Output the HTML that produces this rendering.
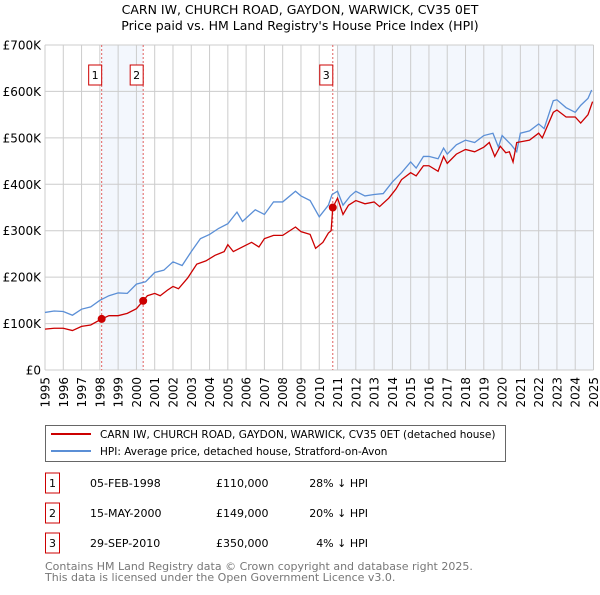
<!DOCTYPE html>
<html><head><meta charset="utf-8"><style>
body{margin:0;background:#fff;font-family:"Liberation Sans","DejaVu Sans",sans-serif}
svg text{font-family:"DejaVu Sans","Liberation Sans",sans-serif}
</style></head><body>
<svg width="600" height="590" xmlns="http://www.w3.org/2000/svg">
<g id="root"></g>
</svg>
<script>
const hpiYears=[1995.0,1995.5,1996.0,1996.5,1997.0,1997.5,1998.0,1998.5,1999.0,1999.5,2000.0,2000.5,2001.0,2001.5,2002.0,2002.5,2003.0,2003.5,2004.0,2004.5,2005.0,2005.5,2005.8,2006.5,2007.0,2007.5,2008.0,2008.7,2009.0,2009.5,2010.0,2010.5,2010.7,2011.0,2011.3,2011.7,2012.0,2012.5,2013.0,2013.5,2014.0,2014.5,2015.0,2015.3,2015.7,2016.0,2016.5,2016.8,2017.0,2017.5,2018.0,2018.5,2019.0,2019.5,2019.8,2020.0,2020.5,2020.8,2021.0,2021.5,2022.0,2022.3,2022.8,2023.0,2023.5,2024.0,2024.3,2024.7,2024.9];
const hpiValues=[124,127,126,118,131,136,150,160,166,165,185,190,210,215,233,225,255,283,292,305,315,340,320,345,335,362,362,385,375,365,330,355,378,385,355,375,385,375,378,380,405,425,448,435,460,460,455,478,465,485,495,490,505,510,480,505,485,470,510,515,530,520,580,582,565,555,570,585,603];
const priceYears=[1995,1995.5,1996,1996.5,1997,1997.5,1998.1,1998.5,1999,1999.5,2000,2000.37,2000.6,2001,2001.3,2001.7,2002,2002.3,2002.8,2003.3,2003.8,2004.3,2004.8,2005.0,2005.3,2005.8,2006.3,2006.7,2007.0,2007.5,2008.0,2008.7,2009.0,2009.5,2009.8,2010.2,2010.5,2010.65,2010.74,2011.0,2011.3,2011.6,2012.0,2012.5,2013.0,2013.3,2013.8,2014.0,2014.2,2014.5,2015.0,2015.3,2015.7,2016.0,2016.5,2016.8,2017.0,2017.5,2018.0,2018.5,2019.0,2019.3,2019.6,2019.9,2020.2,2020.4,2020.6,2020.8,2021.5,2022.0,2022.2,2022.8,2023.0,2023.5,2024.0,2024.3,2024.7,2024.95];
const priceValues=[88,90,90,85,94,97,110,117,117,122,132,149,160,165,160,172,180,175,198,228,235,247,255,270,255,265,275,265,283,290,290,308,298,292,262,275,295,300,350,370,335,355,365,358,362,352,370,380,390,410,425,418,440,440,428,460,445,465,475,470,480,490,460,482,468,470,448,490,495,510,500,555,560,545,545,532,550,578];
const saleYears=[1998.1,2000.37,2010.74];
const saleValues=[110,149,350];
const saleLabels=["1","2","3"];
const yTicks=[0,100,200,300,400,500,600,700];
const yTickLabels=["£0","£100K","£200K","£300K","£400K","£500K","£600K","£700K"];
const xTicks=[];for(let y=1995;y<=2025;y++)xTicks.push(y);

const X0=45,X1=593.5,Y0=370,Y1=45;
const xs=y=>X0+(y-1995)/30*(X1-X0);
const ys=v=>Y0-v/700*(Y0-Y1);
const NS="http://www.w3.org/2000/svg";
const root=document.getElementById('root');
function mk(tag,attrs,parent){const e=document.createElementNS(NS,tag);for(const k in attrs)e.setAttribute(k,attrs[k]);(parent||root).appendChild(e);return e;}

let t=mk('text',{x:300,y:14,'text-anchor':'middle','font-size':12.5,fill:'#000'});t.textContent="CARN IW, CHURCH ROAD, GAYDON, WARWICK, CV35 0ET";


t=mk('text',{x:300,y:30,'text-anchor':'middle','font-size':12.5,fill:'#000'});t.textContent="Price paid vs. HM Land Registry's House Price Index (HPI)";



let r=mk('rect',{x:xs(saleYears[0]),y:Y1,width:xs(saleYears[1])-xs(saleYears[0]),height:Y0-Y1,fill:'#eef3fc',opacity:0.7});


r=mk('rect',{x:xs(2011),y:Y1,width:X1-xs(2011),height:Y0-Y1,fill:'#eef3fc',opacity:0.7});



xTicks.forEach(y=>{const l=mk('line',{x1:xs(y),x2:xs(y),y1:Y1,y2:Y0,stroke:'#cccccc','stroke-width':1});


const tx=mk('text',{transform:`translate(${xs(y)+4.5},${Y0+7}) rotate(-90)`,'text-anchor':'end','font-size':12,fill:'#000'});tx.textContent=y;

});
yTicks.forEach((v,i)=>{const l=mk('line',{x1:X0,x2:X1,y1:ys(v),y2:ys(v),stroke:'#cccccc','stroke-width':1});


const tx=mk('text',{x:X0-4,y:ys(v)+4.5,'text-anchor':'end','font-size':12,fill:'#000'});tx.textContent=yTickLabels[i];

});

saleYears.forEach((y,i)=>{const l=mk('line',{x1:xs(y),x2:xs(y),y1:Y1,y2:Y0,stroke:'#e06060','stroke-width':1,'stroke-dasharray':'2,2'});


const b=mk('rect',{x:xs(y)-13,y:65,width:13,height:20,fill:'#fff',stroke:'#cc0000','stroke-width':1});


const tx=mk('text',{x:xs(y)-6.5,y:79,'text-anchor':'middle','font-size':11,fill:'#000'});tx.textContent=saleLabels[i];

});

let p=mk('polyline',{points:hpiYears.map((y,i)=>xs(y)+','+ys(hpiValues[i])).join(' '),fill:'none',stroke:'#5b8fd6','stroke-width':1.3});


p=mk('polyline',{points:priceYears.map((y,i)=>xs(y)+','+ys(priceValues[i])).join(' '),fill:'none',stroke:'#cc0000','stroke-width':1.3});


saleYears.forEach((y,i)=>{const c=mk('circle',{cx:xs(y),cy:ys(saleValues[i]),r:4,fill:'#cc0000'});

});

let g=mk('rect',{x:45.5,y:425.5,width:460,height:36,fill:'#fff',stroke:'#666','stroke-width':1});


let l=mk('line',{x1:51,x2:91,y1:434,y2:434,stroke:'#cc0000','stroke-width':2});


l=mk('line',{x1:51,x2:91,y1:451,y2:451,stroke:'#5b8fd6','stroke-width':2});


t=mk('text',{x:100,y:438,'font-size':10.5,fill:'#000'});t.textContent="CARN IW, CHURCH ROAD, GAYDON, WARWICK, CV35 0ET (detached house)";


t=mk('text',{x:100,y:455,'font-size':10.5,fill:'#000'});t.textContent="HPI: Average price, detached house, Stratford-on-Avon";



const dates=["05-FEB-1998","15-MAY-2000","29-SEP-2010"],prices=["£110,000","£149,000","£350,000"],pcts=["28% ↓ HPI","20% ↓ HPI","4% ↓ HPI"];
[0,1,2].forEach(i=>{const cy=483+i*30;
const b=mk('rect',{x:45.5,y:cy-10,width:14,height:20,fill:'#fff',stroke:'#cc0000'});


let tx=mk('text',{x:52.5,y:cy+4,'text-anchor':'middle','font-size':11});tx.textContent=saleLabels[i];


tx=mk('text',{x:90,y:cy+4,'font-size':11});tx.textContent=dates[i];


tx=mk('text',{x:216,y:cy+4,'font-size':11});tx.textContent=prices[i];


tx=mk('text',{x:368,y:cy+4,'font-size':11,'text-anchor':'end'});tx.textContent=pcts[i];

});

t=mk('text',{x:45,y:570,'font-size':11,fill:'#777'});t.textContent="Contains HM Land Registry data © Crown copyright and database right 2025.";


t=mk('text',{x:45,y:581,'font-size':11,fill:'#777'});t.textContent="This data is licensed under the Open Government Licence v3.0.";


</script>
</body></html>
